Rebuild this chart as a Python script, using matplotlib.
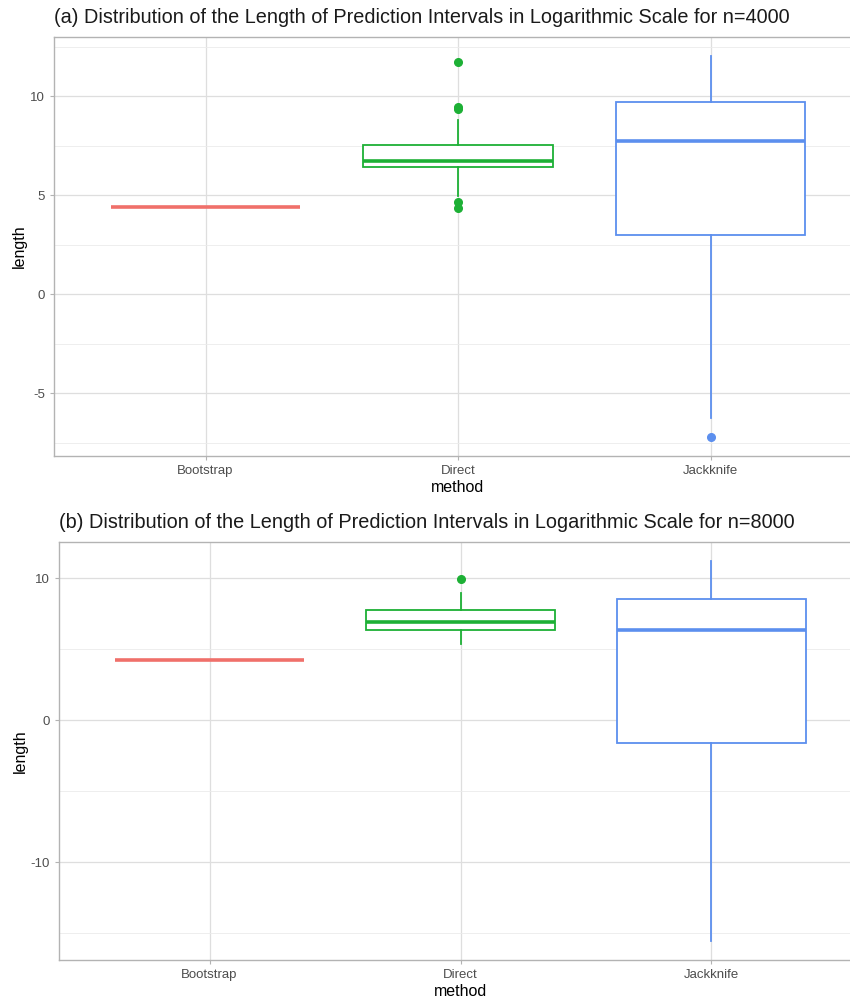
import matplotlib
matplotlib.use("Agg")
import matplotlib.pyplot as plt
import numpy as np

plt.rcParams['font.family'] = ['Liberation Sans', 'DejaVu Sans']

methods = ["Bootstrap", "Direct", "Jackknife"]
colors = ["#F0706A", "#1DB035", "#5C8FEE"]

# panel (a) n=4000: [whislo, q1, med, q3, whishi]
a_stats = {
    "Bootstrap": [4.38, 4.38, 4.38, 4.38, 4.38],
    "Direct":    [4.95, 6.40, 6.73, 7.51, 8.79],
    "Jackknife": [-6.23, 2.98, 7.74, 9.68, 12.02],
}
a_fliers = {
    "Bootstrap": [],
    "Direct":    [11.72, 9.46, 9.33, 4.68, 4.33],
    "Jackknife": [-7.2],
}
# panel (b) n=8000
b_stats = {
    "Bootstrap": [4.22, 4.22, 4.22, 4.22, 4.22],
    "Direct":    [5.36, 6.35, 6.95, 7.76, 8.96],
    "Jackknife": [-15.56, -1.62, 6.35, 8.53, 11.23],
}
b_fliers = {
    "Bootstrap": [],
    "Direct":    [9.94],
    "Jackknife": [],
}
titles = [
    "(a) Distribution of the Length of Prediction Intervals in Logarithmic Scale for n=4000",
    "(b) Distribution of the Length of Prediction Intervals in Logarithmic Scale for n=8000",
]
major_ticks = [[-5, 0, 5, 10], [-10, 0, 10]]
minor_ticks = [[-7.5, -2.5, 2.5, 7.5, 12.5], [-15, -5, 5]]

W, H = 850, 1000
fig = plt.figure(figsize=(W / 100, H / 100), dpi=100)
fig.patch.set_facecolor("white")

# axes in pixel coords: left, top, right, bottom
boxes = [(54, 37, 862, 456), (59, 542, 862, 960)]

for idx, (stats, fliers) in enumerate([(a_stats, a_fliers), (b_stats, b_fliers)]):
    l, t, r, b = boxes[idx]
    ax = fig.add_axes([l / W, 1 - b / H, (r - l) / W, (b - t) / H])
    allvals = []
    for i, m in enumerate(methods):
        lo, q1, med, q3, hi = stats[m]
        bs = [dict(whislo=lo, q1=q1, med=med, q3=q3, whishi=hi, fliers=fliers[m])]
        c = colors[i]
        ax.bxp(bs, positions=[i + 1], widths=0.75, showcaps=False, patch_artist=True,
               boxprops=dict(facecolor="white", edgecolor=c, linewidth=1.3),
               medianprops=dict(color=c, linewidth=2.6),
               whiskerprops=dict(color=c, linewidth=1.3),
               flierprops=dict(marker="o", markerfacecolor=c, markeredgecolor=c, markersize=5.5),
               zorder=3)
        allvals += stats[m] + fliers[m]
    ymin, ymax = min(allvals), max(allvals)
    pad = 0.05 * (ymax - ymin)
    ax.set_ylim(ymin - pad, ymax + pad)
    ax.set_xlim(0.4, 3.6)
    ax.set_xticks([1, 2, 3])
    ax.set_xticklabels(methods)
    ax.set_yticks(major_ticks[idx])
    ax.set_yticks(minor_ticks[idx], minor=True)
    ax.set_yticklabels([str(v) for v in major_ticks[idx]])
    ax.grid(which="major", color="#DEDEDE", linewidth=0.9, zorder=0)
    ax.grid(which="minor", axis="y", color="#EBEBEB", linewidth=0.6, zorder=0)
    ax.set_axisbelow(True)
    for s in ax.spines.values():
        s.set_color("#B3B3B3")
        s.set_linewidth(1.0)
    ax.tick_params(axis="both", which="major", colors="#B3B3B3", labelcolor="#4D4D4D",
                   labelsize=9.5, length=3, width=0.8)
    ax.tick_params(axis="y", which="minor", length=0)
    ax.set_xlabel("method", fontsize=11.5, color="black", labelpad=2)
    ax.set_ylabel("length", fontsize=11.5, color="black", labelpad=2)
    fig.text(l / W, 1 - (t - 10) / H, titles[idx], fontsize=14.3, ha="left", va="bottom",
             color="#1A1A1A")

fig.savefig("out.png", dpi=100, facecolor="white")
